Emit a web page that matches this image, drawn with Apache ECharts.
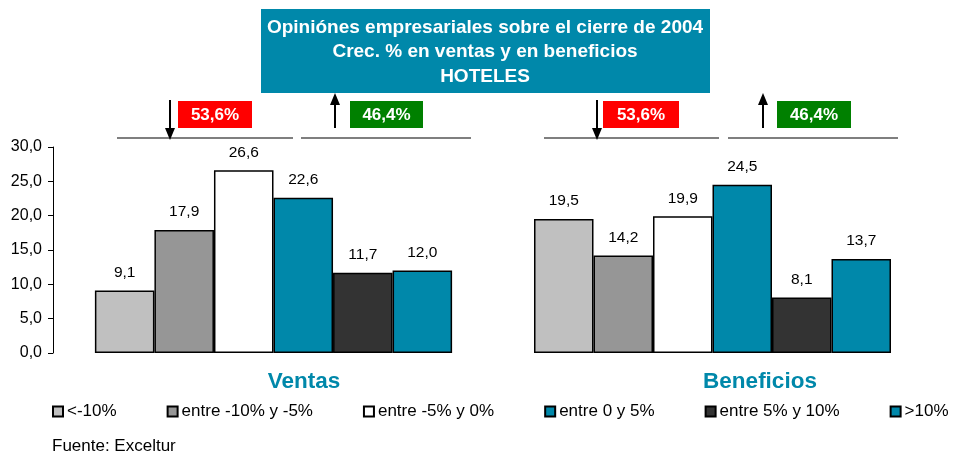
<!DOCTYPE html>
<html>
<head>
<meta charset="utf-8">
<script src="https://cdn.jsdelivr.net/npm/echarts@6/dist/echarts.min.js"></script>
<style>
  html, body { margin: 0; padding: 0; background: #fff; }
  #chart { width: 958px; height: 454px; }
</style>
</head>
<body>
<div id="chart"></div>
<script>
// tramos de crecimiento
var tramos = ['<-10%', 'entre -10% y -5%', 'entre -5% y 0%', 'entre 0 y 5%', 'entre 5% y 10%', '>10%'];
// % de empresas por tramo
var ventas = [9.1, 17.9, 26.6, 22.6, 11.7, 12.0];
var beneficios = [19.5, 14.2, 19.9, 24.5, 8.1, 13.7];
// bajan / suben
var ventasPct = ['53,6%', '46,4%'];
var beneficiosPct = ['53,6%', '46,4%'];
var yTicks = [0, 30, 5];

var colores = ['#c0c0c0', '#969696', '#ffffff', '#0088aa', '#333333', '#0088aa'];
var teal = '#0088aa';
var fuente = '"Liberation Sans", Arial, sans-serif';

function coma(v) {
	return v.toFixed(1).replace('.', ',');
}

var chart = echarts.init(document.getElementById('chart'));

var series = [];
tramos.forEach(function (t, i) {
	[ventas, beneficios].forEach(function (datos, g) {
		series.push({
			name: t,
			type: 'bar',
			xAxisIndex: g,
			yAxisIndex: g,
			barGap: '0%',
			barCategoryGap: g == 0 ? '19%' : '16%',
			data: [datos[i]],
			itemStyle: {
				color: colores[i],
				borderColor: '#000',
				borderWidth: 1.5
			},
			label: {
				show: true,
				position: 'top',
				distance: 10,
				color: '#000',
				fontFamily: fuente,
				fontSize: 15.5,
				formatter: function (p) { return coma(p.value); }
			},
			emphasis: { disabled: true }
		});
	});
});

function texto(x, y, t, size, color, bold, align) {
	return {
		type: 'text', x: x, y: y,
		style: {
			text: t, fill: color, fontFamily: fuente, fontSize: size,
			fontWeight: bold ? 'bold' : 'normal',
			align: align || 'center', verticalAlign: 'middle'
		}
	};
}

// flechas y cajas de porcentajes
function bloque(x1, x2, x3, x4, xDown, boxRed, xUp, boxGreen, pct) {
	return [
		{ type: 'line', shape: { x1: x1, y1: 138, x2: x2, y2: 138 }, style: { stroke: '#000', lineWidth: 1.2 } },
		{ type: 'line', shape: { x1: x3, y1: 138, x2: x4, y2: 138 }, style: { stroke: '#000', lineWidth: 1.2 } },
		{ type: 'line', shape: { x1: xDown, y1: 100, x2: xDown, y2: 130 }, style: { stroke: '#000', lineWidth: 2 } },
		{ type: 'polygon', shape: { points: [[xDown - 5, 128], [xDown + 5, 128], [xDown, 140]] }, style: { fill: '#000' } },
		{ type: 'line', shape: { x1: xUp, y1: 103, x2: xUp, y2: 128 }, style: { stroke: '#000', lineWidth: 2 } },
		{ type: 'polygon', shape: { points: [[xUp - 5, 105], [xUp + 5, 105], [xUp, 93]] }, style: { fill: '#000' } },
		{ type: 'rect', shape: { x: boxRed[0], y: 101, width: boxRed[1], height: 27 }, style: { fill: '#ff0000' } },
		texto(boxRed[0] + boxRed[1] / 2, 115, pct[0], 17, '#fff', true),
		{ type: 'rect', shape: { x: boxGreen[0], y: 101, width: boxGreen[1], height: 27 }, style: { fill: '#008000' } },
		texto(boxGreen[0] + boxGreen[1] / 2, 115, pct[1], 17, '#fff', true)
	];
}

var titulo = texto(485, 52, 'Opiniónes empresariales sobre el cierre de 2004\nCrec. % en ventas y en beneficios\nHOTELES', 19, '#fff', true);
titulo.style.lineHeight = 24.5;

var graficos = [
	{ type: 'rect', shape: { x: 261, y: 9, width: 449, height: 84 }, style: { fill: teal } },
	titulo,
	texto(304, 382, 'Ventas', 22.5, teal, true),
	texto(760, 382, 'Beneficios', 22.5, teal, true),
	texto(52, 446, 'Fuente: Exceltur', 17, '#000', false, 'left')
].concat(
	bloque(117, 293, 301, 471, 170, [178, 74], 335, [350, 73], ventasPct),
	bloque(544, 719, 728, 898, 597, [603, 76], 763, [777, 74], beneficiosPct)
);

var option = {
	animation: false,
	legend: {
		data: tramos,
		left: 52,
		top: 403,
		padding: 0,
		itemGap: 50,
		itemWidth: 10,
		itemHeight: 10,
		icon: 'rect',
		selectedMode: false,
		textStyle: { color: '#000', fontFamily: fuente, fontSize: 17, padding: [0, 0, 0, -1] }
	},
	grid: [
		{ left: 53, top: 147, width: 441, height: 206 },
		{ left: 500, top: 147, width: 425, height: 206 }
	],
	xAxis: [
		{ type: 'category', gridIndex: 0, data: ['Ventas'], show: false },
		{ type: 'category', gridIndex: 1, data: ['Beneficios'], show: false }
	],
	yAxis: [
		{
			type: 'value', gridIndex: 0, min: yTicks[0], max: yTicks[1], interval: yTicks[2],
			axisLine: { show: true, lineStyle: { color: '#000', width: 1 } },
			axisTick: { show: true, length: 5, lineStyle: { color: '#000' } },
			splitLine: { show: false },
			axisLabel: { color: '#000', fontFamily: fuente, fontSize: 16, margin: 11, formatter: function (v) { return coma(v); } }
		},
		{ type: 'value', gridIndex: 1, min: yTicks[0], max: yTicks[1], interval: yTicks[2], show: false, splitLine: { show: false } }
	],
	series: series,
	graphic: graficos
};

chart.setOption(option);
</script>
</body>
</html>
